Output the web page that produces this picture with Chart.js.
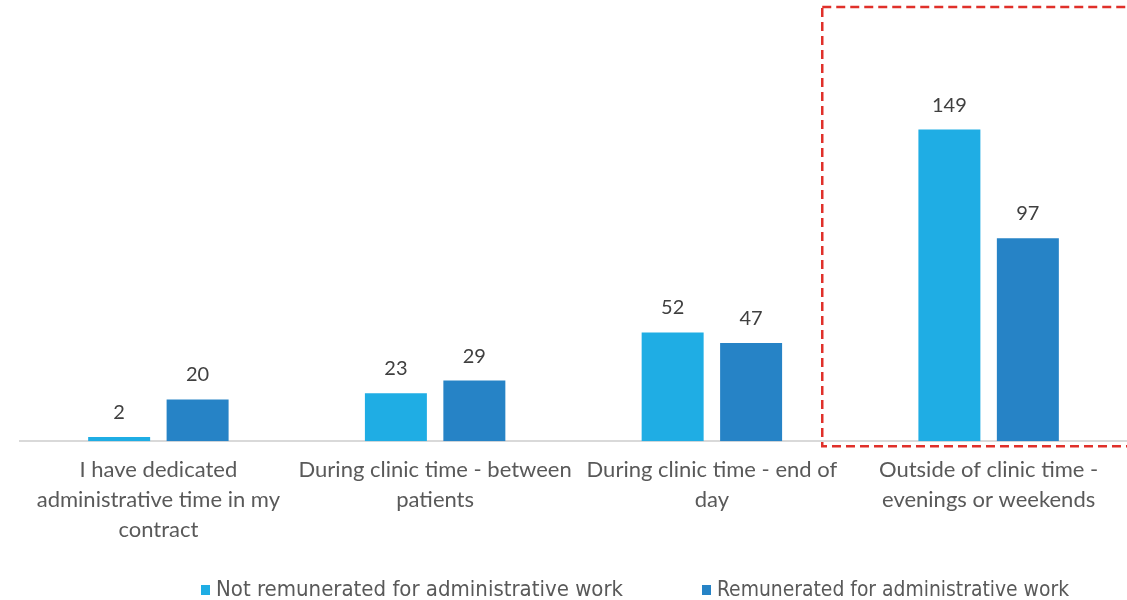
<!DOCTYPE html>
<html>
<head>
<meta charset="utf-8">
<script src="https://cdn.jsdelivr.net/npm/chart.js@4"></script>
<style>
  html, body { margin: 0; padding: 0; background: #fff; }
  #wrap { width: 1127px; height: 600px; }
</style>
</head>
<body>
<div id="wrap"><canvas id="admin-chart"></canvas></div>
<script>
const categories = [
  ["I have dedicated", "administrative time in my", "contract"],
  ["During clinic time - between", "patients"],
  ["During clinic time - end of", "day"],
  ["Outside of clinic time -", "evenings or weekends"],
];
const seriesNames = ["Not remunerated for administrative work", "Remunerated for administrative work"];
const notRemunerated = [2, 23, 52, 149];
const remunerated = [20, 29, 47, 97];
const colors = ["#1FADE4", "#2683C6"];

// value labels above bars
const valueLabels = {
  id: "valueLabels",
  afterDatasetsDraw(chart) {
    const ctx = chart.ctx;
    ctx.save();
    ctx.font = "20px Lato";
    ctx.fillStyle = "#404040";
    ctx.textAlign = "center";
    ctx.textBaseline = "alphabetic";
    chart.data.datasets.forEach((ds, i) => {
      chart.getDatasetMeta(i).data.forEach((bar, j) => {
        ctx.fillText(ds.data[j], bar.x, bar.y - 18);
      });
    });
    ctx.restore();
  },
};

// dashed highlight box + legend
const extras = {
  id: "extras",
  afterDraw(chart) {
    const ctx = chart.ctx;
    const x = chart.scales.x;
    const area = chart.chartArea;
    const half = (x.getPixelForValue(3) - x.getPixelForValue(2)) / 2;
    const left = x.getPixelForValue(3) - half - 28;
    ctx.save();
    ctx.strokeStyle = "#E0302A";
    ctx.lineWidth = 2.5;
    ctx.setLineDash([9, 5]);
    ctx.strokeRect(left, 7, chart.width - left + 10, area.bottom + 5 - 7);
    ctx.restore();

    ctx.save();
    ctx.font = "22px 'DejaVu Sans Condensed', 'Noto Sans'";
    ctx.textBaseline = "middle";
    const starts = [201, 702];
    const widths = [408, 352];
    seriesNames.forEach((name, i) => {
      ctx.fillStyle = colors[i];
      ctx.fillRect(starts[i], 585, 9, 10);
      ctx.fillStyle = "#595959";
      ctx.fillText(name, starts[i] + 15, 590, widths[i]);
    });
    ctx.restore();
  },
};

new Chart(document.getElementById("admin-chart"), {
  type: "bar",
  data: {
    labels: categories,
    datasets: [
      {
        label: seriesNames[0],
        data: notRemunerated,
        backgroundColor: colors[0],
        categoryPercentage: 0.567,
        barPercentage: 0.79,
      },
      {
        label: seriesNames[1],
        data: remunerated,
        backgroundColor: colors[1],
        categoryPercentage: 0.567,
        barPercentage: 0.79,
      },
    ],
  },
  options: {
    responsive: true,
    maintainAspectRatio: false,
    animation: false,
    layout: { padding: { left: 20, right: 0, top: 2, bottom: 41 } },
    plugins: {
      legend: { display: false },
      tooltip: { enabled: false },
    },
    scales: {
      x: {
        grid: { display: false, drawTicks: false },
        border: { display: true, color: "#D9D9D9", width: 2 },
        ticks: {
          color: "#595959",
          font: { family: "Lato", size: 22, lineHeight: 1.36 },
          padding: 14,
          maxRotation: 0,
          autoSkip: false,
        },
      },
      y: {
        display: false,
        min: 0,
        max: 210,
      },
    },
  },
  plugins: [valueLabels, extras],
});
</script>
</body>
</html>
